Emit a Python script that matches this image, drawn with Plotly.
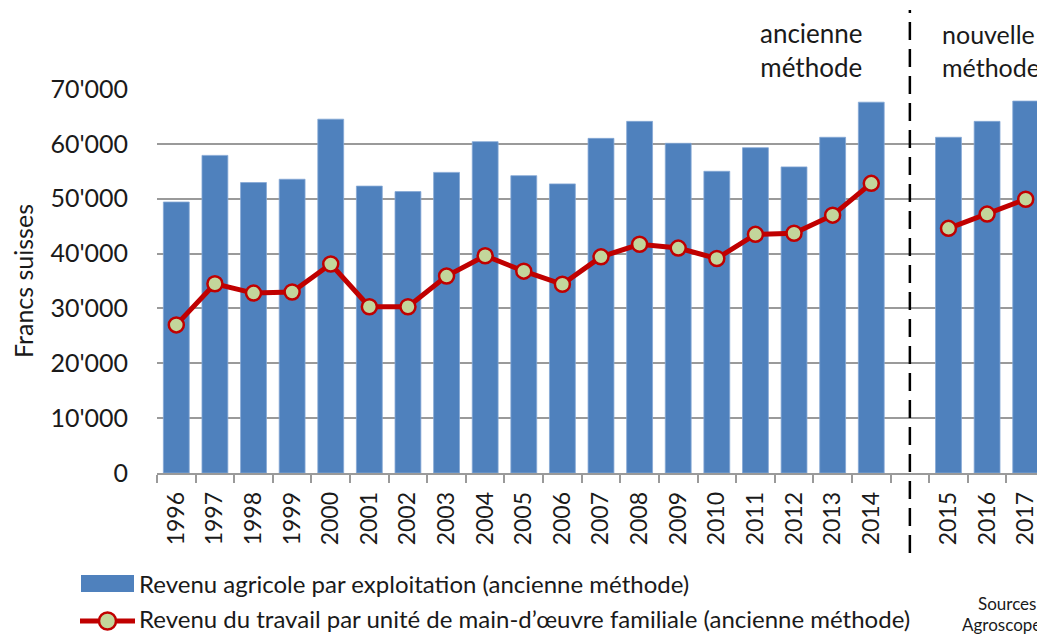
import plotly.graph_objects as go

# data (CHF)
years = ["1996", "1997", "1998", "1999", "2000", "2001", "2002", "2003", "2004", "2005",
         "2006", "2007", "2008", "2009", "2010", "2011", "2012", "2013", "2014",
         " ", "2015", "2016", "2017"]
revenu_agricole = [49400, 57900, 52950, 53550, 64500, 52300, 51300, 54800, 60400, 54200,
                   52700, 61000, 64100, 60100, 55000, 59300, 55800, 61200, 67600,
                   None, 61200, 64100, 67800]
revenu_travail = [27000, 34500, 32800, 33000, 38100, 30300, 30300, 35900, 39600, 36800,
                  34400, 39400, 41700, 41000, 39100, 43500, 43700, 47000, 52800,
                  None, 44600, 47200, 49900]
y_ticks = [0, 10000, 20000, 30000, 40000, 50000, 60000, 70000]

name_bars = "Revenu agricole par exploitation (ancienne méthode)"
name_line = "Revenu du travail par unité de main-d\u2019œuvre familiale (ancienne méthode)"

FONT = "Lato"
TXT = "#1a1a1a"
GRID = "#9a9a9a"
BLUE = "#4F81BD"
RED = "#C00000"
GREEN = "#C3D69B"

# page body has an 8px margin, so the figure is shrunk to fit the window
OFF = 8
W, H = 1045 - OFF, 635 - OFF
# plot area in screen pixels (as measured on the reference)
L, R, T, B = 157, 1045, 89, 473


def px(x):
    return (x - L) / (R - L)


def py(y):
    return (B - y) / (B - T)


fig = go.Figure()
fig.add_bar(
    x=years,
    y=revenu_agricole,
    name=name_bars,
    marker=dict(color=BLUE, line=dict(color="#85a8d6", width=0.8)),
)
fig.add_scatter(
    x=years,
    y=revenu_travail,
    name=name_line,
    mode="lines+markers",
    line=dict(color=RED, width=5),
    marker=dict(size=15, color=GREEN, line=dict(color=RED, width=2.5)),
    connectgaps=False,
)

# separation between old and new method, in the middle of the empty slot
gap_x = (years.index(" ") + 0.5) / len(years)
fig.add_shape(
    type="line", xref="paper", yref="paper",
    x0=gap_x, x1=gap_x, y0=py(553), y1=py(10),
    line=dict(color="black", width=2.5, dash="18px,9px"),
    layer="above",
)

# legend drawn by hand so the swatches keep the wide Excel look
fig.add_shape(type="rect", xref="paper", yref="paper",
              x0=px(81), x1=px(134), y0=py(592), y1=py(575),
              fillcolor=BLUE, line=dict(width=0))
fig.add_shape(type="line", xref="paper", yref="paper",
              x0=px(80), x1=px(135), y0=py(621), y1=py(621),
              line=dict(color=RED, width=5))
fig.add_shape(type="circle", xref="paper", yref="paper",
              x0=px(99), x1=px(116), y0=py(629.5), y1=py(612.5),
              fillcolor=GREEN, line=dict(color=RED, width=2.5))
for label, yy in [(name_bars, 583), (name_line, 618)]:
    fig.add_annotation(
        text=label, xref="paper", yref="paper", x=px(137), y=py(yy),
        xanchor="left", yanchor="middle", showarrow=False,
        font=dict(family=FONT, size=24, color=TXT),
    )

fig.add_annotation(
    text="ancienne<br>méthode", xref="paper", yref="paper",
    x=px(811), y=py(50), xanchor="center", yanchor="middle",
    showarrow=False, align="center", font=dict(family=FONT, size=26, color=TXT),
)
fig.add_annotation(
    text="nouvelle<br>méthode", xref="paper", yref="paper",
    x=px(1042), y=py(50), xanchor="right", yanchor="middle",
    showarrow=False, align="left", font=dict(family=FONT, size=25, color=TXT),
)
fig.add_annotation(
    text="Sources:", xref="paper", yref="paper",
    x=px(1043), y=py(603), xanchor="right", yanchor="middle",
    showarrow=False, font=dict(family=FONT, size=17, color=TXT),
)
fig.add_annotation(
    text="Agroscope", xref="paper", yref="paper",
    x=px(1043), y=py(624), xanchor="right", yanchor="middle",
    showarrow=False, font=dict(family=FONT, size=17, color=TXT),
)

fig.update_layout(
    width=W,
    height=H,
    margin=dict(l=L - OFF, r=W - (R - OFF), t=T - OFF, b=H - (B - OFF)),
    plot_bgcolor="white",
    paper_bgcolor="white",
    bargap=0.33,
    separators=".'",
    font=dict(family=FONT, size=20, color=TXT),
    showlegend=False,
)
fig.update_xaxes(
    type="category",
    categoryorder="array",
    categoryarray=years,
    range=[-0.5, len(years) - 0.5],
    tickangle=-90,
    tickson="boundaries",
    ticks="outside",
    ticklen=8,
    tickwidth=1.5,
    tickcolor=GRID,
    showline=True,
    linecolor=GRID,
    linewidth=1.5,
    showgrid=False,
    automargin=False,
    ticklabelstandoff=8,
    tickfont=dict(family=FONT, size=23, color=TXT),
)
fig.update_yaxes(
    range=[0, 70000],
    tickvals=y_ticks,
    tickformat=",d",
    ticks="",
    showline=False,
    showgrid=True,
    gridcolor=GRID,
    gridwidth=1.5,
    zeroline=False,
    automargin=False,
    ticklabelstandoff=28,
    tickfont=dict(family=FONT, size=25, color=TXT),
    title=dict(text="Francs suisses", font=dict(family=FONT, size=25, color=TXT), standoff=18),
)

fig.write_html("out.html")
